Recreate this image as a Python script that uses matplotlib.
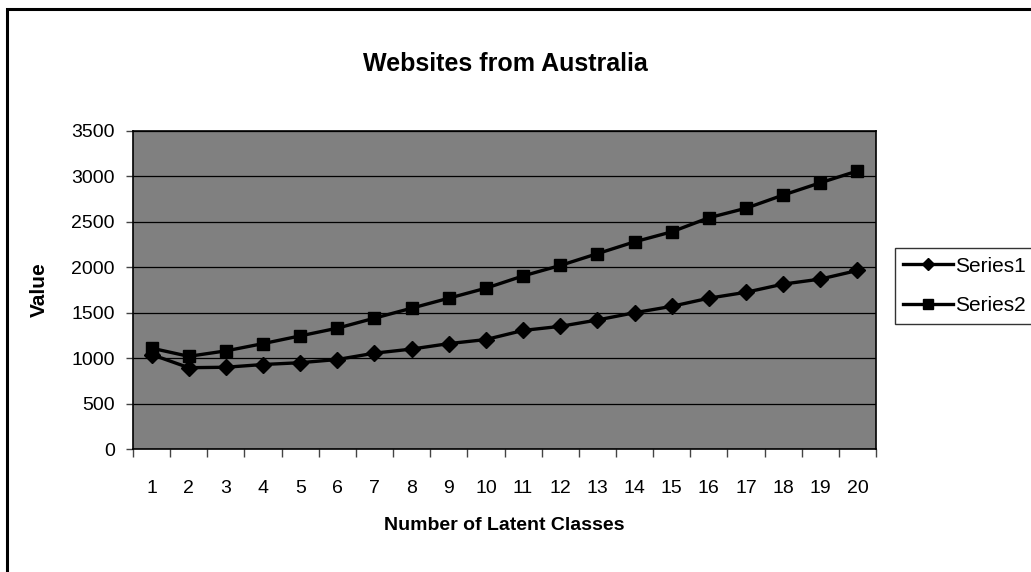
import matplotlib
matplotlib.use('Agg')
import matplotlib.pyplot as plt
from matplotlib.patches import Rectangle

# number of latent classes and the two value series
classes = list(range(1, 21))
series1 = [1040, 895, 900, 930, 950, 985, 1055, 1100, 1160, 1205,
           1305, 1350, 1420, 1500, 1570, 1660, 1725, 1815, 1870, 1965]
series2 = [1110, 1020, 1080, 1160, 1245, 1330, 1440, 1550, 1660, 1770,
           1905, 2020, 2150, 2280, 2390, 2545, 2650, 2795, 2930, 3060]
yticks = [0, 500, 1000, 1500, 2000, 2500, 3000, 3500]

plt.rcParams['font.family'] = ['Liberation Sans', 'DejaVu Sans']

fig = plt.figure(figsize=(10.31, 5.72), dpi=100)
ax = fig.add_axes([0.129, 0.215, 0.7207, 0.556])
ax.set_facecolor('#808080')

ax.plot(classes, series1, color='black', lw=2.4, marker='D', ms=8, label='Series1', zorder=3)
ax.plot(classes, series2, color='black', lw=2.4, marker='s', ms=8.5, label='Series2', zorder=3)

ax.set_xlim(0.5, 20.5)
ax.set_ylim(0, 3500)
ax.set_yticks(yticks)
ax.set_yticklabels([str(v) for v in yticks], fontsize=14)
ax.set_xticks(classes)
ax.set_xticklabels([str(c) for c in classes], fontsize=14)
# category ticks sit between the labels
ax.set_xticks([c + 0.5 for c in range(0, 21)], minor=True)
ax.tick_params(axis='x', which='major', length=0, pad=22)
ax.tick_params(axis='x', which='minor', length=6, width=1, color='#444444')
ax.tick_params(axis='y', length=5, width=1, color='#444444', pad=8)
ax.grid(axis='y', color='black', lw=0.9)
ax.set_axisbelow(True)
for s in ax.spines.values():
    s.set_color('black')
    s.set_linewidth(1.2)

ax.set_xlabel('Number of Latent Classes', fontsize=14, fontweight='bold', labelpad=15)
ax.set_ylabel('Value', fontsize=15, fontweight='bold', labelpad=16)
fig.text(0.49, 0.888, 'Websites from Australia', ha='center', va='center',
         fontsize=18, fontweight='bold')

leg = ax.legend(loc='upper left', bbox_to_anchor=(0.868, 0.566), bbox_transform=fig.transFigure,
                frameon=True, fancybox=False, edgecolor='black', fontsize=15,
                handlelength=2.4, handletextpad=0.1, borderpad=0.4, labelspacing=1.0,
                borderaxespad=0, markerscale=0.8)
leg.get_frame().set_linewidth(1.0)

# outer chart border, running off the right and bottom edges
fig.patches.append(Rectangle((0.007, -0.05), 1.05, 1.034, transform=fig.transFigure,
                             fill=False, edgecolor='black', lw=2.2))

fig.savefig('out.png', dpi=100)
